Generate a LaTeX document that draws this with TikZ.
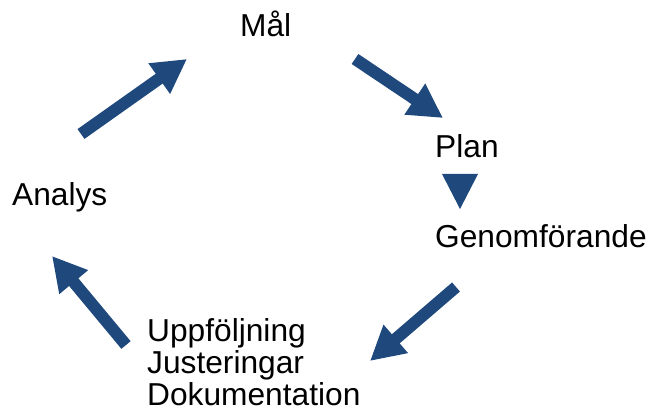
\documentclass[tikz,border=0pt]{standalone}
\usepackage{fontspec}
\setmainfont{Liberation Sans}
\usetikzlibrary{arrows.meta}

\definecolor{cykelblue}{RGB}{31,73,125}
\tikzset{
  steptext/.style={anchor=base west, inner sep=0pt, align=left,
    font=\fontsize{31.7}{32}\selectfont},
  blockarrow/.style={draw=cykelblue, line width=12pt,
    -{Triangle[width=35pt,length=34pt]}, cykelblue, fill=cykelblue}
}

\begin{document}
\begin{tikzpicture}[x=1pt,y=-1pt]
\useasboundingbox (0,0) rectangle (650,414);

%% steps
\node[steptext] (mal) at (240,37) {Mål};
\node[steptext] (plan) at (435,158) {Plan};
\node[steptext] (genom) at (435,247) {Genomförande};
\node[steptext] (uppf) at (147,405) {Uppföljning\\Justeringar\\Dokumentation};
\node[steptext] (analys) at (12,205) {Analys};

%% arrow ends
\coordinate (t1) at (355,59);  \coordinate (p1) at (443,118);
\coordinate (t4) at (456,287); \coordinate (p4) at (370,361);
\coordinate (t5) at (126,345); \coordinate (p5) at (52,256);
\coordinate (t2) at (81,134);  \coordinate (p2) at (187,59);

%% arrows
\draw[blockarrow] (t1) -- (p1);
\fill[cykelblue] (442,174) -- (478,174) -- (460,209) -- cycle;
\draw[blockarrow] (t4) -- (p4);
\draw[blockarrow] (t5) -- (p5);
\draw[blockarrow] (t2) -- (p2);

\end{tikzpicture}
\end{document}
